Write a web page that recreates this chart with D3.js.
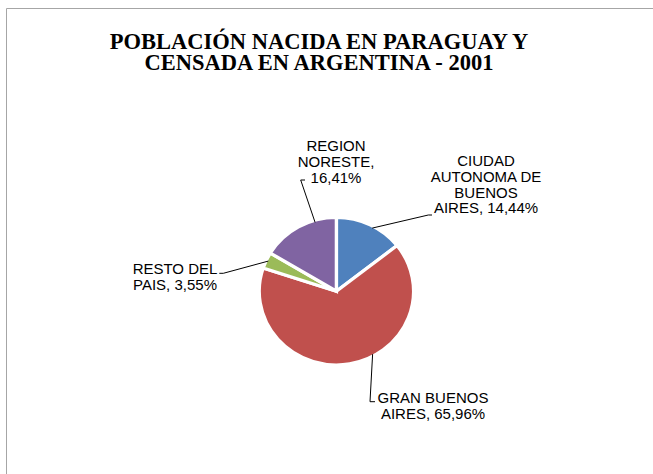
<!DOCTYPE html>
<html>
<head>
<meta charset="utf-8">
<script src="https://cdn.jsdelivr.net/npm/d3@7"></script>
<style>
  html, body { margin: 0; padding: 0; background: #fff; }
  svg { display: block; }
</style>
</head>
<body>
<svg id="chart" width="653" height="474"></svg>
<script>
// ---- data ----
const categories = ["CIUDAD AUTONOMA DE BUENOS AIRES", "GRAN BUENOS AIRES", "RESTO DEL PAIS", "REGION NORESTE"];
const values = [14.44, 65.96, 3.55, 16.41];
const valueLabels = ["14,44%", "65,96%", "3,55%", "16,41%"];
const colors = ["#4F81BD", "#C0504D", "#9BBB59", "#8064A2"];
const labelLines = [
  ["CIUDAD", "AUTONOMA DE", "BUENOS", "AIRES, 14,44%"],
  ["GRAN BUENOS", "AIRES, 65,96%"],
  ["RESTO DEL", "PAIS, 3,55%"],
  ["REGION", "NORESTE,", "16,41%"]
];
const titleLines = ["POBLACIÓN NACIDA EN PARAGUAY Y", "CENSADA EN ARGENTINA - 2001"];

// ---- layout ----
const svg = d3.select("#chart");
const cx = 336.4, cy = 291.2, r = 73.8, sx = 1.046;

// border
svg.append("path")
  .attr("d", "M6.5,474 V8.5 H653")
  .attr("fill", "none")
  .attr("stroke", "#a6a6a6")
  .attr("stroke-width", 1);

// title
svg.append("text")
  .attr("x", 319).attr("y", 49)
  .attr("text-anchor", "middle")
  .attr("font-family", "'Liberation Serif', 'Times New Roman', serif")
  .attr("font-weight", "bold")
  .attr("font-size", 22.5)
  .attr("fill", "#000")
  .selectAll("tspan").data(titleLines).join("tspan")
  .attr("x", 319)
  .attr("dy", (d, i) => i === 0 ? 0 : 21)
  .text(d => d);

// pie
const pie = d3.pie().sort(null).value(d => d)(values);
const arc = d3.arc().innerRadius(0).outerRadius(r);
const g = svg.append("g").attr("transform", `translate(${cx},${cy}) scale(${sx},1)`);
g.selectAll("path").data(pie).join("path")
  .attr("d", arc)
  .attr("fill", (d, i) => colors[i])
  .attr("stroke", "#fff")
  .attr("stroke-width", 3.2)
  .attr("stroke-linejoin", "miter");

// label geometry: position of label block (anchor) and leader line
// leader: starting point on slice derived from arc angle, then elbow, then end near text
function edgePoint(d, frac) {
  const a = d.startAngle + (d.endAngle - d.startAngle) * frac;
  return [cx + sx * (r - 2) * Math.sin(a), cy - (r - 2) * Math.cos(a)];
}
const labelSpec = [
  { x: 486, y: 166, frac: 0.55, elbow: [428.3, 215], end: [432, 215] },
  { x: 433, y: 402.7, frac: 0.42, elbow: [370, 401.7], end: [375, 401.7] },
  { x: 175, y: 274, frac: 0.5, elbow: [223.3, 273.3], end: [219.3, 273.3] },
  { x: 336, y: 151, frac: 0.72, elbow: [300.7, 180], end: [305, 180] }
];
const lh = 15.8;

pie.forEach((d, i) => {
  const s = labelSpec[i];
  const p0 = edgePoint(d, s.frac);
  svg.append("path")
    .attr("d", d3.line()([p0, s.elbow, s.end]))
    .attr("fill", "none")
    .attr("stroke", "#000")
    .attr("stroke-width", 1);
  svg.append("text")
    .attr("x", s.x).attr("y", s.y)
    .attr("text-anchor", "middle")
    .attr("font-family", "'Liberation Sans', Arial, sans-serif")
    .attr("font-size", 15)
    .attr("fill", "#000")
    .selectAll("tspan").data(labelLines[i]).join("tspan")
    .attr("x", s.x)
    .attr("dy", (t, j) => j === 0 ? 0 : lh)
    .text(t => t);
});
</script>
</body>
</html>
